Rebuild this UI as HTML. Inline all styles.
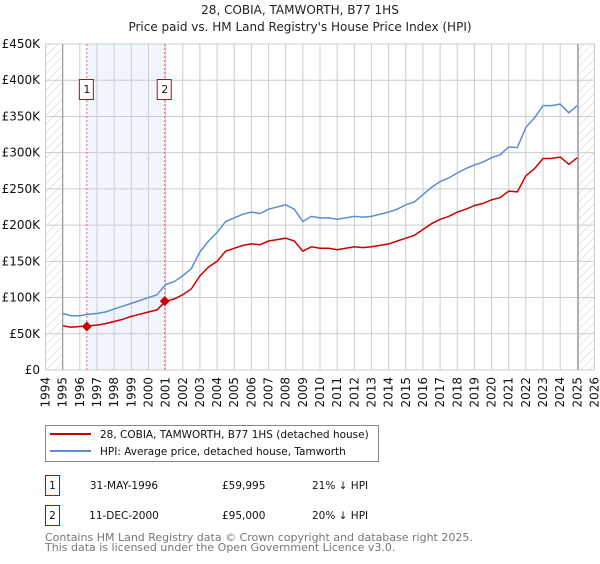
<!DOCTYPE html>
<html><head><meta charset="utf-8"><style>
body{margin:0;background:#fff;font-family:"DejaVu Sans","Liberation Sans",sans-serif;}
svg text{font-family:"DejaVu Sans","Liberation Sans",sans-serif;}
</style></head><body>
<svg id="chart" width="600" height="560" xmlns="http://www.w3.org/2000/svg">
<defs><pattern id="hatch" patternUnits="userSpaceOnUse" width="6" height="6" patternTransform="rotate(45)"><line x1="0" y1="0" x2="0" y2="6" stroke="#ccc" stroke-width="1"/></pattern></defs>
<text x="300" y="14" text-anchor="middle" font-size="12" fill="#222">28, COBIA, TAMWORTH, B77 1HS</text>
<text x="300" y="31" text-anchor="middle" font-size="12" fill="#222">Price paid vs. HM Land Registry's House Price Index (HPI)</text>
<g id="plot"></g>
<g>
<rect x="45.5" y="425.5" width="333" height="36" fill="#fff" stroke="#888"/>
<line x1="50" y1="434" x2="91" y2="434" stroke="#cc0000" stroke-width="2"/>
<text x="100" y="438" font-size="10.5" fill="#111">28, COBIA, TAMWORTH, B77 1HS (detached house)</text>
<line x1="50" y1="451" x2="91" y2="451" stroke="#5b8fd1" stroke-width="2"/>
<text x="100" y="455" font-size="10.5" fill="#111">HPI: Average price, detached house, Tamworth</text>
</g>
<g font-size="10.5" fill="#111">
<rect x="45.5" y="475.5" width="14" height="20" fill="#fff" stroke="#cc0000"/>
<text x="52.5" y="489" text-anchor="middle">1</text>
<text x="124" y="489" text-anchor="middle">31-MAY-1996</text>
<text x="222" y="489">£59,995</text>
<text x="312" y="489">21% ↓ HPI</text>
<rect x="45.5" y="505.5" width="14" height="20" fill="#fff" stroke="#cc0000"/>
<text x="52.5" y="519" text-anchor="middle">2</text>
<text x="124" y="519" text-anchor="middle">11-DEC-2000</text>
<text x="222" y="519">£95,000</text>
<text x="312" y="519">20% ↓ HPI</text>
</g>
<text x="45" y="541" font-size="11" fill="#777">Contains HM Land Registry data © Crown copyright and database right 2025.</text>
<text x="45" y="551" font-size="11" fill="#777">This data is licensed under the Open Government Licence v3.0.</text>
</svg>
<script>
const years = [1995,1995.5,1996,1996.5,1997,1997.5,1998,1998.5,1999,1999.5,2000,2000.5,2001,2001.5,2002,2002.5,2003,2003.5,2004,2004.5,2005,2005.5,2006,2006.5,2007,2007.5,2008,2008.5,2009,2009.5,2010,2010.5,2011,2011.5,2012,2012.5,2013,2013.5,2014,2014.5,2015,2015.5,2016,2016.5,2017,2017.5,2018,2018.5,2019,2019.5,2020,2020.5,2021,2021.5,2022,2022.5,2023,2023.5,2024,2024.5,2025];
const hpiValues = [78,75,75,77,78,80,84,88,92,96,100,104,118,122,130,140,163,178,190,205,210,215,218,216,222,225,228,222,205,212,210,210,208,210,212,211,212,215,218,222,228,232,242,252,260,265,272,278,283,287,293,297,308,307,335,348,365,365,367,355,365];
const priceValues = [61,59,60,61,62,64,67,70,74,77,80,83,95,98,104,112,130,142,150,164,168,172,174,173,178,180,182,178,164,170,168,168,166,168,170,169,170,172,174,178,182,186,194,202,208,212,218,222,227,230,235,238,247,246,268,278,292,292,294,284,293];
const yTicks = [0,50,100,150,200,250,300,350,400,450];
const yTickLabels = ["£0","£50K","£100K","£150K","£200K","£250K","£300K","£350K","£400K","£450K"];
const xTicks = [1994,1995,1996,1997,1998,1999,2000,2001,2002,2003,2004,2005,2006,2007,2008,2009,2010,2011,2012,2013,2014,2015,2016,2017,2018,2019,2020,2021,2022,2023,2024,2025,2026];
const sales = [{label:"1",year:1996.41,value:59.995},{label:"2",year:2000.95,value:95}];
const dataStart = 1995, dataEnd = 2025.05;

const X0=45.5,X1=594.5,Y0=370,Y1=44;
const x = v => X0 + (v-1994)/(2026-1994)*(X1-X0);
const y = v => Y0 - v/450*(Y0-Y1);
const NS="http://www.w3.org/2000/svg";
const g=document.getElementById('plot');
function mk(t,a){const e=document.createElementNS(NS,t);for(const k in a)e.setAttribute(k,a[k]);g.appendChild(e);return e;}

let e;
e=mk('rect',{x:x(sales[0].year),y:Y1,width:x(sales[1].year)-x(sales[0].year),height:Y0-Y1,fill:'#f1f5fd'});


e=mk('rect',{x:X0,y:Y1,width:x(dataStart)-X0,height:Y0-Y1,fill:'url(#hatch)'});


e=mk('rect',{x:x(dataEnd),y:Y1,width:X1-x(dataEnd),height:Y0-Y1,fill:'url(#hatch)'});



yTicks.forEach((t,i)=>{
  const l=mk('line',{x1:X0,x2:X1,y1:y(t),y2:y(t),stroke:'#ccc','stroke-width':1});
  
  
  const tx=mk('text',{x:40,y:y(t)+4,'text-anchor':'end','font-size':12,fill:'#111'});
  tx.textContent=yTickLabels[i];
  
  
});
xTicks.forEach(t=>{
  const l=mk('line',{x1:x(t),x2:x(t),y1:Y1,y2:Y0,stroke:'#ccc','stroke-width':1});
  
  
  const tx=mk('text',{x:0,y:0,'text-anchor':'end','font-size':12,fill:'#111',transform:`translate(${x(t)+4},377) rotate(-90)`});
  tx.textContent=t;
  
  
});
[dataStart,dataEnd].forEach(t=>{
  const l=mk('line',{x1:x(t),x2:x(t),y1:Y1,y2:Y0,stroke:'#999','stroke-width':1.2});
  
  
});
sales.forEach(s=>{
  const l=mk('line',{x1:x(s.year),x2:x(s.year),y1:Y1,y2:Y0,stroke:'#e06666','stroke-width':1,'stroke-dasharray':'2,2'});
  
  
});
function path(vals){return years.map((yr,i)=>(i?'L':'M')+x(yr).toFixed(1)+','+y(vals[i]).toFixed(1)).join('');}
e=mk('path',{d:path(hpiValues),fill:'none',stroke:'#5b8fd1','stroke-width':1.5});


e=mk('path',{d:path(priceValues),fill:'none',stroke:'#cc0000','stroke-width':1.5});


sales.forEach(s=>{
  const cx=x(s.year),cy=y(s.value);
  const d=mk('path',{d:`M${cx},${cy-5}L${cx+5},${cy}L${cx},${cy+5}L${cx-5},${cy}Z`,fill:'#cc0000'});
  
  
  const r=mk('rect',{x:cx-7.5,y:79.5,width:14,height:20,fill:'#fff',stroke:'#cc0000'});
  
  
  const t=mk('text',{x:cx,y:93,'text-anchor':'middle','font-size':11,fill:'#111'});
  t.textContent=s.label;
  
  
});
</script>
</body></html>
